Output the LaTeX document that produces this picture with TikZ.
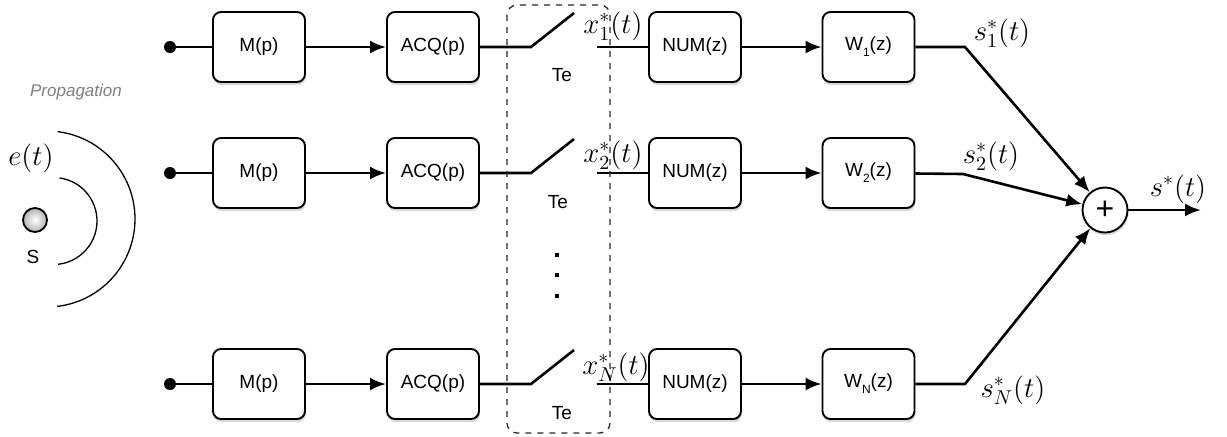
\documentclass[tikz,border=0pt]{standalone}
\usepackage[no-math]{fontspec}
\setmainfont{Liberation Sans}
\usetikzlibrary{arrows.meta,shadows}
\tikzset{
  blk/.style={draw, rounded corners=4pt, line width=0.95pt, fill=white,
    minimum width=46pt, minimum height=35pt, inner sep=0pt,
    font=\fontsize{9.5}{11}\selectfont,
    drop shadow={shadow xshift=0.4pt, shadow yshift=-1.6pt, opacity=0.3}},
  conn/.style={line width=1.3pt},
  arr/.style={conn, -{Latex[length=8pt,width=6.5pt]}},
  indot/.style={circle, fill=black, inner sep=0pt, minimum size=6pt},
  sqdot/.style={rectangle, fill=black, inner sep=0pt, minimum size=2pt},
  mlab/.style={font=\fontsize{14}{16}\selectfont, inner sep=0pt},
  telab/.style={font=\fontsize{9.5}{11}\selectfont, inner sep=0pt},
  wave/.style={line width=0.65pt},
}
\begin{document}
\begin{tikzpicture}[x=0.5pt,y=-0.5pt]
\useasboundingbox (0,0) rectangle (1227,436);

% left: source and waves
\node[black!50, font=\fontsize{8.5}{10}\selectfont\itshape] (prop) at (76,92) {Propagation};
\node[mlab] (et) at (31,158) {$e(t)$};
\node[circle, draw, line width=0.9pt, minimum size=12pt, inner sep=0pt,
      shading=radial, inner color=white, outer color=gray!60] (src) at (35,220) {};
\node[font=\fontsize{9.5}{11}\selectfont, inner sep=0pt] (slab) at (33,257) {S};
\coordinate (wc1) at (53.5,221);
\coordinate (wc2) at (47,219);
\draw[wave] (wc1) ++(-82:43.5) arc[start angle=-82, end angle=84, radius=43.5];
\draw[wave] (wc2) ++(-83:88) arc[start angle=-83, end angle=83.4, radius=88];

% rows
\foreach \r/\y/\i in {1/47/1, 2/173/2, 3/384/N}{
  \node[indot] (in\r) at (170,\y) {};
  \node[blk] (m\r) at (259,\y) {M(p)};
  \node[blk] (acq\r) at (433,\y) {ACQ(p)};
  \node[blk] (num\r) at (695,\y) {NUM(z)};
  \node[blk] (w\r) at (868.5,\y) {W\raisebox{-0.6ex}{\fontsize{6}{7}\selectfont \i}(z)};
  \coordinate (sa\r) at (531,\y);
  \coordinate (sb\r) at (574,\y-34);
  \coordinate (sc\r) at (597,\y);
  \coordinate (k\r) at (965,\y);
  \draw[conn] (in\r) -- (m\r);
  \draw[arr] (m\r) -- (acq\r);
  \draw[conn] (acq\r) -- (sa\r) -- (sb\r);
  \draw[conn] (sc\r) -- (num\r);
  \draw[arr] (num\r) -- (w\r);
}

% sampling frame
\draw[dashed, line width=0.65pt, rounded corners=5pt, gray!30!black] (507,5) rectangle (610,433);

\node[telab] (te1) at (562,75) {Te};
\node[telab] (te2) at (558,202) {Te};
\node[telab] (te3) at (562,413) {Te};

\node[sqdot] (d1) at (557,255) {};
\node[sqdot] (d2) at (557,275) {};
\node[sqdot] (d3) at (557,296) {};

\node[mlab] (x1) at (613,26) {$x_1^*(t)$};
\node[mlab] (x2) at (613,155) {$x_2^*(t)$};
\node[mlab] (x3) at (616,367) {$x_N^*(t)$};

% summation
\node[circle, draw, line width=0.95pt, fill=white, minimum size=22.5pt, inner sep=0pt,
      font=\fontsize{16}{16}\selectfont,
      drop shadow={shadow xshift=0.4pt, shadow yshift=-1.4pt, opacity=0.3}] (plus) at (1105,210) {+};
\coordinate (out) at (1201,210);

\draw[arr] (w1) -- (k1) -- (plus);
\draw[arr] (w2) -- (963,174) -- (plus);
\draw[arr] (w3) -- (k3) -- (plus);
\draw[arr] (plus) -- (out);

\node[mlab] (s1) at (1002,33) {$s_1^*(t)$};
\node[mlab] (s2) at (991,156) {$s_2^*(t)$};
\node[mlab] (s3) at (1013,390) {$s_N^*(t)$};
\node[mlab] (so) at (1178,189) {$s^*(t)$};
\end{tikzpicture}
\end{document}
